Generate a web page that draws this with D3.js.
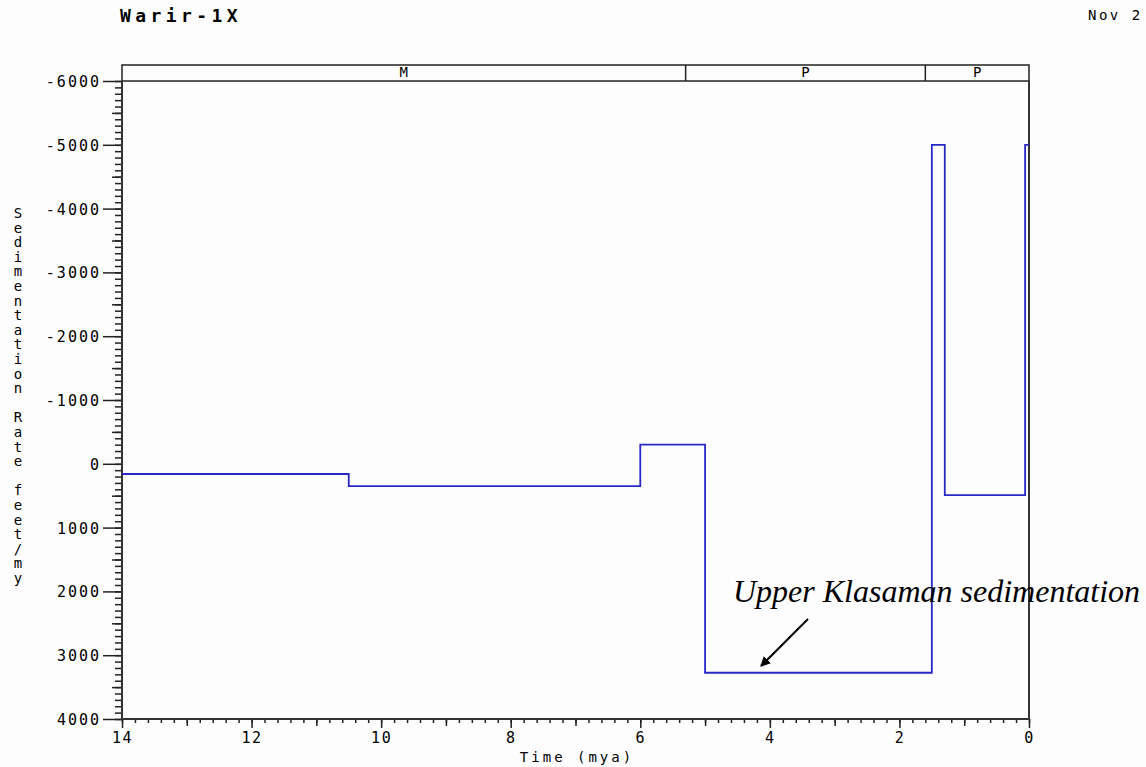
<!DOCTYPE html>
<html>
<head>
<meta charset="utf-8">
<script src="https://cdn.jsdelivr.net/npm/d3@7"></script>
<style>
  html, body { margin: 0; padding: 0; background: #fdfdfd; }
  #container { width: 1146px; height: 767px; }
</style>
</head>
<body>
<div id="container"></div>
<script>
// step edges (mya) and the rate held after each edge
const ageBreaks = [14, 10.5, 6, 5, 1.5, 1.3, 0.06, 0];
const rateValues = [160, 350, -300, 3275, -5000, 490, -5000];

const stageBounds = [14, 5.3, 1.6, 0];
const stageNames = ['M', 'P', 'P'];

const xTickValues = [14, 12, 10, 8, 6, 4, 2, 0];
const yTickValues = [-6000, -5000, -4000, -3000, -2000, -1000, 0, 1000, 2000, 3000, 4000];

const yLabelText = 'Sedimentation Rate feet/my';

let viz = d3.select('#container')
    .append('svg')
    .attr('width', 1146)
    .attr('height', 767)
    .style('background', '#fdfdfd');

const plotLeft = 122, plotRight = 1029, plotTop = 81, plotBottom = 719;
const mono = "'DejaVu Sans Mono', monospace";

let x = d3.scaleLinear().domain([14, 0]).range([plotLeft, plotRight]);
let y = d3.scaleLinear().domain([-6000, 4000]).range([plotTop, plotBottom]);

// title + date
viz.append('text')
    .text('Warir-1X')
    .attr('x', 120).attr('y', 22)
    .attr('font-family', mono).attr('font-weight', 'bold')
    .attr('font-size', 18).style('letter-spacing', '4.4px');

viz.append('text')
    .text('Nov 2')
    .attr('x', 1088).attr('y', 20)
    .attr('font-family', mono).attr('font-size', 14)
    .style('letter-spacing', '2.5px');

// stage bar
let stageBar = viz.append('g').attr('id', 'stageBar');
stageBar.append('rect')
    .attr('x', x(14)).attr('y', 65)
    .attr('width', x(0) - x(14)).attr('height', plotTop - 65)
    .attr('fill', 'none').attr('stroke', '#222').attr('stroke-width', 1.5);
stageBar.selectAll('.divider').data(stageBounds.slice(1, -1))
    .enter().append('line')
    .attr('class', 'divider')
    .attr('x1', d => x(d)).attr('x2', d => x(d))
    .attr('y1', 65).attr('y2', plotTop)
    .attr('stroke', '#222').attr('stroke-width', 1.5);
stageBar.selectAll('.stageName').data(stageNames)
    .enter().append('text')
    .attr('class', 'stageName')
    .text(d => d)
    .attr('x', (d, i) => (x(stageBounds[i]) + x(stageBounds[i + 1])) / 2)
    .attr('y', 77)
    .attr('text-anchor', 'middle')
    .attr('font-family', mono).attr('font-size', 14);

// y axis: major, half and minor ticks
let yAxisG = viz.append('g').attr('transform', `translate(${plotLeft},0)`);
yAxisG.append('g')
    .call(d3.axisLeft(y).tickValues(d3.range(-6000, 4001, 100)).tickSize(7).tickFormat(''));
yAxisG.append('g')
    .call(d3.axisLeft(y).tickValues(d3.range(-5500, 4000, 1000)).tickSize(10).tickFormat(''));
yAxisG.append('g')
    .call(d3.axisLeft(y).tickValues(yTickValues).tickSize(19).tickPadding(2).tickFormat(d => d));
yAxisG.selectAll('.domain').remove();
yAxisG.selectAll('line').attr('stroke', '#222').attr('stroke-width', 1.5);
yAxisG.selectAll('text')
    .attr('font-family', mono).attr('font-size', 15)
    .style('letter-spacing', '2px').attr('dy', '0.36em');

// x axis
let xAxisG = viz.append('g').attr('transform', `translate(0,${plotBottom})`);
xAxisG.append('g')
    .call(d3.axisBottom(x).tickValues(d3.range(0, 14.01, 0.2)).tickSize(4).tickFormat(''));
xAxisG.append('g')
    .call(d3.axisBottom(x).tickValues(d3.range(1, 14, 2)).tickSize(7).tickFormat(''));
xAxisG.append('g')
    .call(d3.axisBottom(x).tickValues(xTickValues).tickSize(9).tickPadding(4).tickFormat(d => d));
xAxisG.selectAll('.domain').remove();
xAxisG.selectAll('line').attr('stroke', '#222').attr('stroke-width', 1.5);
xAxisG.selectAll('text')
    .attr('font-family', mono).attr('font-size', 15)
    .style('letter-spacing', '1.5px');

// frame lines (left, bottom, right)
viz.append('path')
    .attr('d', `M${plotLeft},${plotTop}V${plotBottom}H${plotRight}V${plotTop}`)
    .attr('fill', 'none').attr('stroke', '#333').attr('stroke-width', 2);

// axis titles
viz.append('text')
    .text('Time (mya)')
    .attr('x', 577).attr('y', 762)
    .attr('text-anchor', 'middle')
    .attr('font-family', mono).attr('font-size', 14)
    .style('letter-spacing', '3px');

let yLabel = viz.append('g').attr('id', 'yLabel');
yLabel.selectAll('text').data(yLabelText.split(''))
    .enter().append('text')
    .text(d => d)
    .attr('x', 18)
    .attr('y', (d, i) => 218 + i * 14.6)
    .attr('text-anchor', 'middle')
    .attr('font-family', mono).attr('font-size', 14);

// rate step line
let points = ageBreaks.map((t, i) => [t, rateValues[Math.min(i, rateValues.length - 1)]]);
let stepLine = d3.line()
    .x(d => x(d[0]))
    .y(d => y(d[1]))
    .curve(d3.curveStepAfter);
viz.append('path')
    .attr('d', stepLine(points))
    .attr('fill', 'none')
    .attr('stroke', '#2828c8')
    .attr('stroke-width', 1.8);

// annotation
viz.append('defs').append('marker')
    .attr('id', 'arrowHead')
    .attr('viewBox', '0 0 10 10')
    .attr('refX', 9).attr('refY', 5)
    .attr('markerWidth', 5).attr('markerHeight', 5)
    .attr('orient', 'auto')
    .append('path')
    .attr('d', 'M0,0L10,5L0,10Z')
    .attr('fill', '#000');

viz.append('line')
    .attr('x1', 808).attr('y1', 619)
    .attr('x2', 761).attr('y2', 666)
    .attr('stroke', '#000').attr('stroke-width', 2)
    .attr('marker-end', 'url(#arrowHead)');

viz.append('text')
    .text('Upper Klasaman sedimentation')
    .attr('x', 733).attr('y', 602)
    .attr('font-family', "'Liberation Serif', 'Times New Roman', serif")
    .attr('font-style', 'italic')
    .attr('font-size', 32);
</script>
</body>
</html>
